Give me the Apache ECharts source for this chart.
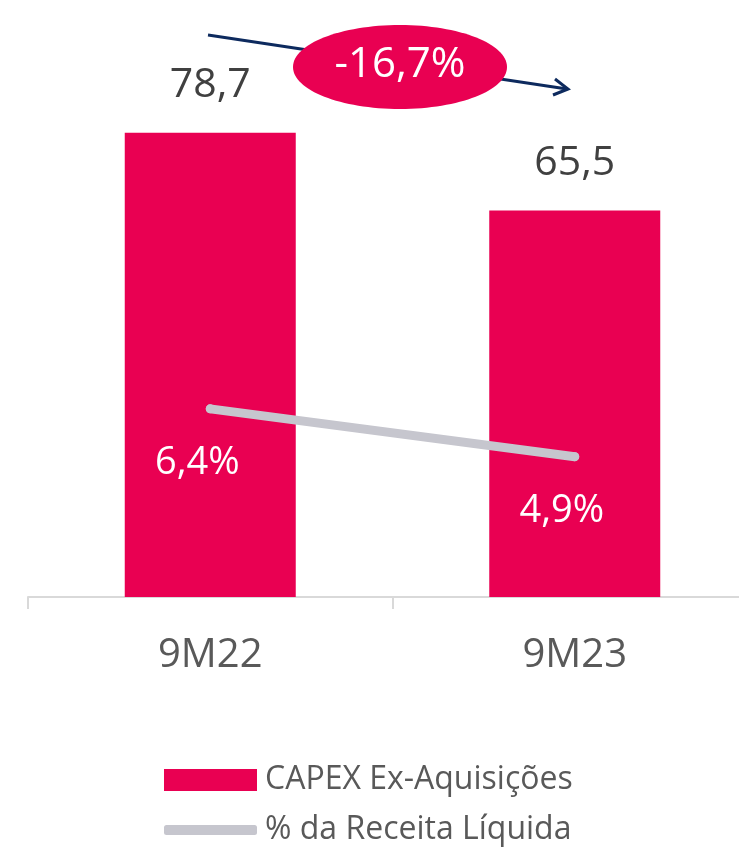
<!DOCTYPE html>
<html>
<head>
<meta charset="utf-8">
<script src="https://cdn.jsdelivr.net/npm/echarts@6/dist/echarts.min.js"></script>
<style>
  html, body { margin: 0; padding: 0; background: #fff; }
  #chart { width: 739px; height: 849px; }
</style>
</head>
<body>
<div id="chart"></div>
<script>
// dados do gráfico
var categorias = ['9M22', '9M23'];
var capexExAquisicoes = [78.7, 65.5];
var pctReceitaLiquida = [6.4, 4.9];
var variacaoTexto = '-16,7%';
var nomesSeries = ['CAPEX Ex-Aquisições', '% da Receita Líquida'];

var corBarra = '#E90052';
var corLinha = '#C6C6CE';
var fonte = '"Open Sans", sans-serif';

//formata com vírgula
function fmt(v) {
    return v.toFixed(1).replace('.', ',');
}

window.onload = function () {
    var chart = echarts.init(document.getElementById('chart'));
    var option = {
        backgroundColor: '#fff',
        animation: false,
        grid: { left: 28, width: 729, top: 7, bottom: 252, outerBoundsMode: 'none', containLabel: false },
        legend: [
            {
                data: [nomesSeries[0]],
                left: 164, top: 762,
                padding: 0,
                icon: 'rect',
                itemWidth: 93, itemHeight: 22,
                textStyle: { fontFamily: fonte, fontSize: 32, lineHeight: 36, color: '#595959', padding: [0, 0, 0, 3] }
            },
            {
                data: [nomesSeries[1]],
                left: 164, top: 812,
                padding: 0,
                icon: 'roundRect',
                itemWidth: 93, itemHeight: 10,
                textStyle: { fontFamily: fonte, fontSize: 32, lineHeight: 36, color: '#595959', padding: [0, 0, 0, 3] }
            }
        ],
        xAxis: {
            type: 'category',
            data: categorias,
            axisLine: { lineStyle: { color: '#D9D9D9', width: 2 } },
            axisTick: { show: true, length: 12, lineStyle: { color: '#D9D9D9', width: 2 } },
            axisLabel: { fontFamily: fonte, fontSize: 40, color: '#595959', margin: 39 }
        },
        yAxis: [
            { type: 'value', min: 0, max: 100, show: false, splitLine: { show: false } },
            { type: 'value', min: 0.5, max: 19, show: false, splitLine: { show: false } }
        ],
        series: [
            {
                name: nomesSeries[0],
                type: 'bar',
                data: capexExAquisicoes,
                barWidth: 171,
                itemStyle: { color: corBarra },
                label: {
                    show: true,
                    position: 'top',
                    distance: 27,
                    fontFamily: fonte,
                    fontSize: 41,
                    color: '#404040',
                    formatter: function (p) { return fmt(p.value); }
                }
            },
            {
                name: nomesSeries[1],
                type: 'line',
                yAxisIndex: 1,
                data: pctReceitaLiquida,
                symbol: 'circle',
                symbolSize: 9,
                itemStyle: { color: corLinha },
                lineStyle: { color: corLinha, width: 9, cap: 'round' },
                z: 5,
                label: {
                    show: true,
                    position: 'bottom',
                    distance: 31,
                    offset: [-13, 0],
                    fontFamily: fonte,
                    fontSize: 38,
                    color: '#fff',
                    formatter: function (p) { return fmt(p.value) + '%'; }
                }
            }
        ],
        graphic: [
            {
                type: 'line',
                shape: { x1: 208, y1: 35, x2: 567, y2: 89 },
                style: { stroke: '#0D2A5E', lineWidth: 3 },
                z: 10
            },
            {
                type: 'polyline',
                shape: { points: [[555, 79], [568, 89], [553, 95]] },
                style: { stroke: '#0D2A5E', lineWidth: 3, fill: null },
                z: 10
            },
            {
                type: 'ellipse',
                shape: { cx: 400, cy: 67, rx: 107, ry: 42 },
                style: { fill: corBarra },
                z: 11
            },
            {
                type: 'text',
                x: 400, y: 65,
                style: {
                    text: variacaoTexto,
                    fill: '#fff',
                    font: '42px "Open Sans", sans-serif',
                    textAlign: 'center',
                    textVerticalAlign: 'middle'
                },
                z: 12
            }
        ]
    };
    chart.setOption(option);
};
</script>
</body>
</html>
